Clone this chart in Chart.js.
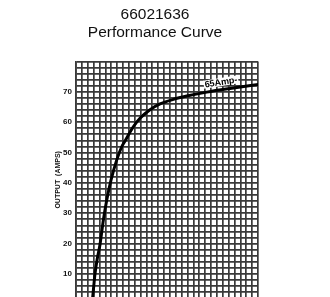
<!DOCTYPE html>
<html>
<head>
<meta charset="utf-8">
<script src="https://cdn.jsdelivr.net/npm/chart.js@4.4.0/dist/chart.umd.min.js"></script>
<style>
  html, body { margin: 0; padding: 0; background: #fff; overflow: hidden; height: 297px; }
  #box { width: 330px; height: 307px; }
</style>
</head>
<body>
<div id="box"><canvas id="perfChart"></canvas></div>
<script>
// speed axis is unlabeled in the picture, so x is counted in grid cells
const speedCells = [2.84, 3.24, 3.63, 4.09, 4.65, 5.23, 5.96, 6.93, 7.79, 8.35, 9.76, 10.9, 12.61, 14.31, 16.58, 18.86, 22.27, 26.24, 31.06];
const outputAmps = [2.15, 10.1, 15.1, 19.7, 27.6, 34.3, 40.9, 47.5, 51.9, 53.8, 58.5, 61.3, 64.1, 66.0, 67.5, 68.6, 69.9, 71.1, 72.4];
const yTickLabels = [10, 20, 30, 40, 50, 60, 70];
const titleLines = ["66021636", "Performance Curve"];
const curveName = "65Amp";
const curveNameAt = [22.0, 71.4];

const points = speedCells.map((x, i) => ({ x: x, y: outputAmps[i] }));
const gridColor = "#3a3a3a";

const curveLabel = {
    id: "curveLabel",
    afterDatasetsDraw(chart) {
        const { ctx, scales } = chart;
        const px = scales.x.getPixelForValue(curveNameAt[0]);
        const py = scales.y.getPixelForValue(curveNameAt[1]);
        ctx.save();
        ctx.translate(px, py);
        ctx.rotate(-0.16);
        ctx.font = "bold 9px 'Liberation Sans Narrow', 'Liberation Sans', sans-serif";
        ctx.fillStyle = "#fff";
        const w = ctx.measureText(curveName + "-").width;
        ctx.fillRect(-1, -7, w + 2, 8);
        ctx.fillStyle = "#000";
        ctx.textBaseline = "alphabetic";
        ctx.fillText(curveName + "-", 0, 0);
        ctx.restore();
    }
};

const ctx = document.getElementById("perfChart").getContext("2d");
const perfChart = new Chart(ctx, {
    type: "line",
    data: {
        datasets: [{
            label: curveName,
            data: points,
            borderColor: "#000",
            borderWidth: 3,
            pointRadius: 0,
            cubicInterpolationMode: "monotone",
            fill: false
        }]
    },
    options: {
        responsive: true,
        maintainAspectRatio: false,
        animation: false,
        layout: { padding: { left: 0, right: 20, top: 0, bottom: 0 } },
        plugins: {
            legend: { display: false },
            tooltip: { enabled: false },
            title: {
                display: true,
                text: titleLines,
                color: "#111",
                font: { family: "'Liberation Sans', Arial, sans-serif", size: 15.5, weight: "normal", lineHeight: 1.16 },
                padding: { top: 6, bottom: 19.5 }
            }
        },
        scales: {
            x: {
                type: "linear",
                min: 0,
                max: 31,
                ticks: { display: false, stepSize: 1 },
                grid: { color: gridColor, lineWidth: 1.7, drawTicks: false },
                border: { color: gridColor, width: 1.7 },
                afterFit: (s) => { s.height = 0; }
            },
            y: {
                min: 2,
                max: 80,
                ticks: {
                    stepSize: 2,
                    autoSkip: false,
                    padding: 4,
                    color: "#111",
                    font: { family: "'Liberation Sans Narrow', 'Liberation Sans', sans-serif", size: 8, weight: "bold" },
                    callback: (v) => yTickLabels.includes(v) ? String(v) : ""
                },
                grid: { color: gridColor, lineWidth: 1.7, drawTicks: false },
                border: { color: gridColor, width: 1.7 },
                title: {
                    display: true,
                    text: "OUTPUT  (AMPS)",
                    color: "#111",
                    font: { family: "'Liberation Sans Narrow', 'Liberation Sans', sans-serif", size: 7, weight: "bold" },
                    padding: { top: 54, bottom: 0 }
                },
                afterFit: (s) => { s.width = 76; }
            },
            yRight: {
                position: "right",
                display: true,
                ticks: { display: false },
                grid: { display: false },
                border: { display: false },
                afterFit: (s) => { s.width = 52; }
            }
        }
    },
    plugins: [curveLabel]
});
</script>
</body>
</html>
